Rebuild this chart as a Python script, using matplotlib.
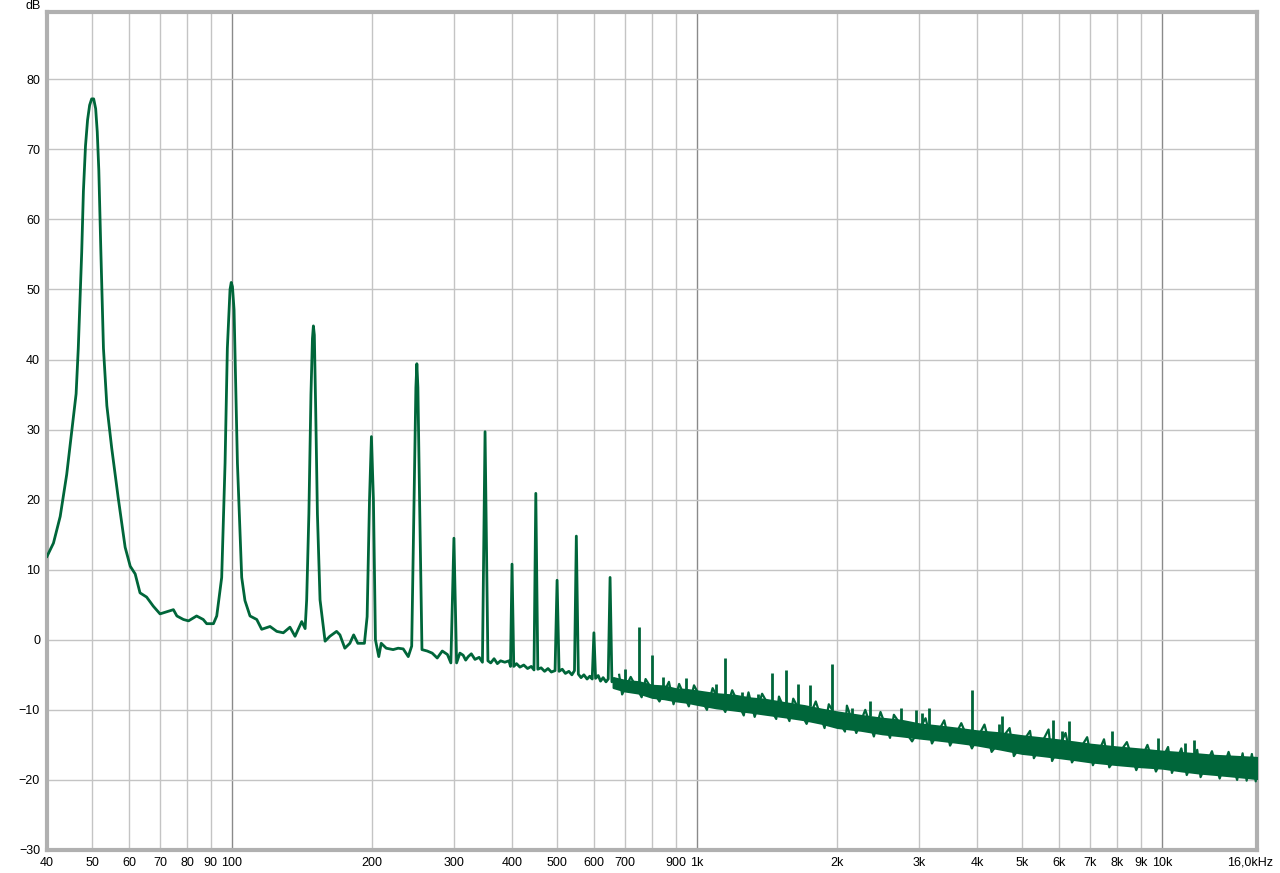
import numpy as np
import matplotlib.pyplot as plt
from matplotlib.transforms import ScaledTranslation

plt.rcParams['font.family'] = ['Liberation Sans', 'DejaVu Sans']

# trace up to ~680 Hz, freq in Hz, level in dB
line_f = [40, 41.3, 42.7, 44.1, 45.6, 46.2, 46.7, 47.5, 47.9, 48.4, 48.9, 49.4, 49.9, 50.4, 50.9,
          51.3, 51.7, 52.2, 52.9, 53.8, 55.1, 56.9, 58.9, 60.4, 61.9, 63.4, 65.5, 67.7, 70.0,
          72.4, 74.8, 76.1, 78.6, 80.6, 83.9, 86.7, 88.2, 91.2, 92.7, 95.0, 96.6, 97.7, 99.0,
          99.6, 100.2, 101.0, 102.7, 104.9, 106.6, 109.3, 113, 115.8, 120.7, 124.8, 128.9, 133.2,
          136.6, 141.2, 143.6, 144.7, 146.3, 147.8, 148.9, 149.6, 150.3, 151.3, 152.6, 154.6,
          158.5, 162.3, 167.8, 170.6, 174.8, 179.2, 182.6, 186.4, 192.6, 195.2, 197.5, 199.4,
          201.4, 203.4, 206.8, 209.3, 214.6, 222, 227.6, 233.4, 239.3, 243.4, 246.3, 248.5,
          249.7, 251, 253.1, 256.1, 262.8, 269.4, 276.2, 283.2, 290.5, 295.5, 300, 304, 309,
          314, 318, 322, 327, 333, 340, 345.5, 350, 355, 360, 366, 372, 378, 386, 394, 397, 400,
          403.5, 409, 416, 424, 432, 440, 446, 450, 454.5, 462, 470, 478, 486, 495, 500, 505,
          513, 521, 530, 538, 545, 550, 555.5, 563, 571, 580, 588, 595, 600, 605, 613, 620,
          628, 637, 644, 650, 656, 664, 672, 680]
line_db = [11.9, 13.8, 17.6, 23.6, 31.8, 35.1, 41.6, 55.3, 64.0, 70.5, 74.2, 76.3, 77.2, 77.2, 75.8,
           72.5, 67.0, 56.0, 41.6, 33.4, 27.4, 20.3, 13.2, 10.5, 9.4, 6.7, 6.1, 4.8, 3.7,
           4.0, 4.3, 3.4, 2.9, 2.7, 3.4, 2.9, 2.3, 2.3, 3.4, 8.9, 25.2, 41.6, 50.0,
           51.0, 50.4, 47.1, 25.2, 8.9, 5.6, 3.4, 2.9, 1.5, 1.9, 1.2, 1.0, 1.8,
           0.5, 2.6, 1.6, 5.7, 18.0, 35.0, 43.0, 44.8, 43.5, 33.0, 18.0, 5.7,
           -0.2, 0.5, 1.2, 0.7, -1.2, -0.5, 0.7, -0.5, -0.5, 3.3, 19.9, 29.0,
           19.9, 0.0, -2.4, -0.5, -1.2, -1.4, -1.2, -1.3, -2.4, -0.9, 19.9, 36.0,
           39.4, 36.0, 19.9, -1.4, -1.6, -1.9, -2.6, -1.6, -2.1, -3.3, 14.5, -3.3, -1.9,
           -2.2, -2.9, -2.4, -2.0, -2.8, -2.5, -3.2, 29.7, -3.0, -3.3, -2.7, -3.4, -3.0, -3.2, -3.0, -3.8, 10.8,
           -3.8, -3.4, -3.9, -3.6, -4.1, -3.8, -4.3, 20.9, -4.2, -4.0, -4.5, -4.1, -4.6, -4.4, 8.5, -4.5,
           -4.2, -4.8, -4.5, -5.0, -4.4, 14.8, -4.9, -5.4, -5.0, -5.6, -5.2, -5.6, 1.0, -5.5, -5.1, -5.9,
           -5.4, -6.0, -5.6, 8.9, -6.0, -5.6, -6.5, -6.0]

# dense noise floor above ~660 Hz: upper and lower edge of the band
band_f = [660, 700, 750, 800, 850, 900, 950, 1000, 1100, 1200, 1300, 1400, 1550, 1700, 1850,
          2000, 2250, 2500, 2750, 3000, 3300, 3600, 4000, 4500, 5000, 5500, 6000, 6500, 7000,
          8000, 9000, 10000, 11000, 12000, 13000, 14000, 15000, 16000]
band_hi = [-5.4, -5.8, -6.0, -6.5, -6.6, -7.0, -7.1, -7.3, -7.7, -7.9, -8.3, -8.5, -9.0, -9.4, -9.9,
           -10.3, -10.8, -11.2, -11.5, -12.0, -12.3, -12.6, -13.0, -13.3, -13.7, -14.0, -14.3, -14.6, -14.9,
           -15.3, -15.6, -15.9, -16.1, -16.3, -16.5, -16.6, -16.7, -16.8]
band_lo = [-6.8, -7.3, -7.6, -8.2, -8.4, -8.7, -8.9, -9.2, -9.7, -10.0, -10.3, -10.6, -11.0, -11.4, -11.9,
           -12.5, -12.9, -13.4, -13.7, -14.0, -14.3, -14.6, -15.0, -15.6, -16.2, -16.5, -16.8, -17.1, -17.4,
           -17.8, -18.1, -18.3, -18.7, -19.0, -19.2, -19.4, -19.6, -19.8]

# ragged edge of the noise: alternating local maxima / minima
noise_f = [680, 690, 720, 760, 775, 830, 870, 890, 915, 960, 985, 1050, 1080, 1150, 1190, 1260,
           1290, 1330, 1380, 1480, 1500, 1580, 1610, 1720, 1800, 1880, 1920, 2080, 2100, 2200,
           2300, 2400, 2480, 2600, 2650, 2900, 3100, 3200, 3400, 3500, 3700, 3900, 4150, 4300,
           4700, 4800, 5200, 5300, 5700, 5800, 6200, 6400, 6900, 7100, 7500, 7700, 8400, 8800,
           9300, 9700, 10300, 10500, 11000, 11300, 11900, 12100, 12800, 13300, 13900, 14500,
           14900, 15200, 15600, 15900, 16000]
noise_db = [-5.0, -7.8, -5.3, -8.2, -5.6, -8.8, -6.0, -9.2, -6.3, -9.5, -6.5, -10.0, -6.9, -10.3, -7.2, -10.8,
            -7.5, -11.0, -7.7, -11.3, -8.1, -11.6, -8.4, -12.0, -8.8, -12.6, -9.2, -13.1, -9.4, -13.3,
            -10.0, -13.8, -10.3, -14.0, -10.7, -14.5, -11.2, -14.8, -11.5, -15.1, -11.9, -15.5, -12.1, -16.0,
            -12.6, -16.6, -13.0, -16.9, -12.8, -17.3, -13.3, -17.5, -13.9, -17.9, -14.2, -18.2, -14.6, -18.6,
            -15.0, -18.8, -15.3, -19.0, -15.5, -19.3, -15.7, -19.6, -15.9, -19.8, -16.0, -20.0,
            -16.2, -20.1, -16.3, -20.2, -17.5]

# spikes sticking out of the noise floor
spike_f = [700, 750, 800, 846, 945, 1100, 1150, 1250, 1350, 1450, 1550, 1650, 1750, 1950, 2150,
           2350, 2750, 2950, 3050, 3150, 3900, 4450, 4520, 5840, 6100, 6300, 7800, 9780, 11200, 11700]
spike_top = [-4.1, 1.8, -2.2, -5.3, -5.5, -6.3, -2.6, -7.5, -7.8, -4.8, -4.3, -6.3, -6.5, -3.5, -9.7,
             -8.7, -9.7, -10.0, -10.4, -9.8, -7.1, -12.0, -10.9, -11.5, -13.0, -11.6, -13.0, -14.0, -14.8, -14.3]
spike_base = [-6.0, -6.2, -6.6, -6.8, -7.2, -7.9, -8.0, -8.2, -8.5, -8.7, -9.0, -9.3, -9.5, -10.0, -10.6,
              -10.9, -11.6, -11.9, -12.0, -12.1, -12.9, -13.3, -13.4, -14.2, -14.4, -14.5, -15.3, -15.9, -16.2, -16.3]

xticks = [40, 50, 60, 70, 80, 90, 100, 200, 300, 400, 500, 600, 700, 800, 900, 1000,
          2000, 3000, 4000, 5000, 6000, 7000, 8000, 9000, 10000, 16000]
xlabels = ['40', '50', '60', '70', '80', '90', '100', '200', '300', '400', '500', '600', '700', '',
           '900', '1k', '2k', '3k', '4k', '5k', '6k', '7k', '8k', '9k', '10k', '16,0kHz']
yticks = [-30, -20, -10, 0, 10, 20, 30, 40, 50, 60, 70, 80]

green = '#00663a'

fig = plt.figure(figsize=(12.8, 8.73), dpi=100)
ax = fig.add_axes([47 / 1280, 1 - 850 / 873, 1210 / 1280, 838 / 873])
ax.set_xscale('log')
ax.set_xlim(40, 16000)
ax.set_ylim(-30, 89.6)

# grid
for f in xticks[1:-1]:
    dark = f in (100, 1000, 10000)
    ax.axvline(f, color='#8a8a8a' if dark else '#c4c4c4', lw=1, zorder=0)
for y in yticks[1:]:
    ax.axhline(y, color='#c4c4c4', lw=1, zorder=0)

ax.fill_between(band_f, band_lo, band_hi, color=green, lw=1.6, edgecolor=green, zorder=3)
ax.plot(noise_f, noise_db, color=green, lw=1.6, zorder=3)
ax.vlines(spike_f, spike_base, spike_top, color=green, lw=2, zorder=3)
ax.plot(line_f, line_db, color=green, lw=2, solid_joinstyle='round', zorder=4)

ax.set_xticks(xticks)
ax.set_xticklabels(xlabels)
ax.xaxis.set_minor_locator(plt.NullLocator())
ax.set_yticks(yticks)
ax.tick_params(length=0, labelsize=9, pad=5, colors='#000000')
last = ax.get_xticklabels()[-1]
last.set_transform(last.get_transform() + ScaledTranslation(-7 / 100, 0, fig.dpi_scale_trans))
for s in ax.spines.values():
    s.set_color('#b0b0b0')
    s.set_linewidth(3)

fig.text(33 / 1280, 1 - 6 / 873, 'dB', ha='center', va='center', fontsize=9)

fig.savefig('out.png', dpi=100)
